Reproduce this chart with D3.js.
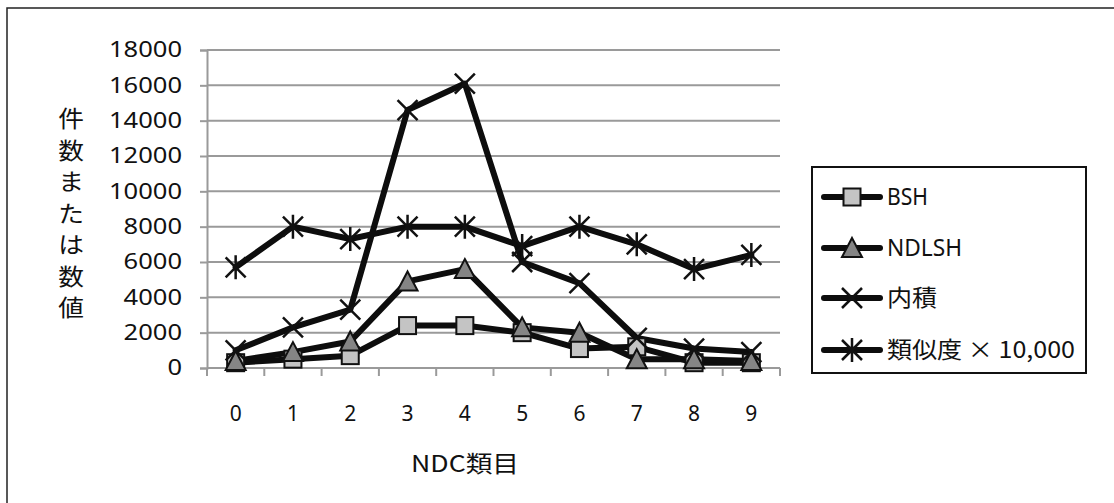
<!DOCTYPE html>
<html>
<head>
<meta charset="utf-8">
<script src="https://d3js.org/d3.v7.min.js"></script>
<style>
  html, body { margin: 0; padding: 0; background: #fff; }
  svg { display: block; }
  text { font-family: "Noto Sans", "Noto Sans CJK JP", sans-serif; fill: #111; }
  .jp { font-family: "Noto Sans CJK JP", "Noto Sans", sans-serif; }
</style>
</head>
<body>
<svg id="chart" width="1114" height="503"></svg>
<script>
// NDC classes on the x axis
const categories = ["0", "1", "2", "3", "4", "5", "6", "7", "8", "9"];
const yTicks = [0, 2000, 4000, 6000, 8000, 10000, 12000, 14000, 16000, 18000];

// series values per NDC class
const bsh      = [300, 500, 700, 2400, 2400, 2000, 1100, 1200, 300, 300];
const ndlsh    = [400, 900, 1500, 4900, 5600, 2300, 2000, 500, 500, 400];
const naiseki  = [1000, 2300, 3300, 14600, 16100, 6000, 4800, 1700, 1100, 900];
const ruijido  = [5700, 8000, 7300, 8000, 8000, 6900, 8000, 7000, 5600, 6400];

const seriesNames = ["BSH", "NDLSH", "内積", "類似度×10,000"];
const legendLabels = ["BSH", "NDLSH", "内積", "類似度 × 10,000"];
const seriesValues = [bsh, ndlsh, naiseki, ruijido];
const markerKinds = ["square", "triangle", "cross", "asterisk"];

const svg = d3.select("#chart");

// outer frame (only top and left edges fall inside the view)
svg.append("rect")
  .attr("x", 7).attr("y", 8).attr("width", 1130).attr("height", 520)
  .attr("fill", "none").attr("stroke", "#222").attr("stroke-width", 1.5);

const x = d3.scaleBand().domain(categories).range([207, 780]);
const y = d3.scaleLinear().domain([0, 18000]).range([368, 50]);
const cx = c => x(c) + x.bandwidth() / 2;

// horizontal gridlines
svg.append("g").selectAll("line").data(yTicks).join("line")
  .attr("x1", 207).attr("x2", 780)
  .attr("y1", d => y(d)).attr("y2", d => y(d))
  .attr("stroke", "#9a9a9a").attr("stroke-width", 2);

// y axis
const yAxis = svg.append("g").attr("transform", "translate(207,0)")
  .call(d3.axisLeft(y).tickValues(yTicks).tickSize(7).tickPadding(18).tickFormat(d3.format("d")));
yAxis.select(".domain").attr("stroke", "#9a9a9a").attr("stroke-width", 2);
yAxis.selectAll(".tick line").attr("stroke", "#9a9a9a").attr("stroke-width", 2);
yAxis.selectAll(".tick text")
  .attr("font-size", 21).attr("font-family", "Noto Sans")
  .attr("fill", "#111")
  .attr("textLength", d => String(d).length * 14.6)
  .attr("lengthAdjust", "spacingAndGlyphs");

// x axis: labels at band centres, tick marks at band boundaries
const xAxis = svg.append("g").attr("transform", "translate(0,368)")
  .call(d3.axisBottom(x).tickSize(0).tickPadding(38));
xAxis.select(".domain").remove();
xAxis.selectAll(".tick text")
  .attr("font-size", 21).attr("font-family", "Noto Sans").attr("fill", "#111");
svg.append("line").attr("x1", 207).attr("x2", 780).attr("y1", y(0)).attr("y2", y(0))
  .attr("stroke", "#9a9a9a").attr("stroke-width", 2);
const bounds = categories.map(c => x(c)).concat([x.range()[1]]);
svg.append("g").selectAll("line").data(bounds).join("line")
  .attr("x1", d => d).attr("x2", d => d)
  .attr("y1", y(0)).attr("y2", y(0) + 8)
  .attr("stroke", "#9a9a9a").attr("stroke-width", 2);

// axis titles
svg.append("text").attr("class", "jp")
  .attr("x", 465).attr("y", 472).attr("text-anchor", "middle")
  .attr("font-size", 23).attr("textLength", 108).attr("lengthAdjust", "spacingAndGlyphs")
  .text("NDC類目");

const yTitle = "件数または数値".split("");
svg.append("g").selectAll("text").data(yTitle).join("text")
  .attr("class", "jp")
  .attr("transform", (d, i) => `translate(71,${119 + i * 31.5}) scale(1.12,1)`)
  .attr("text-anchor", "middle").attr("dy", "0.36em")
  .attr("font-size", 23)
  .text(d => d);

// marker drawing
function drawMarker(g, kind, px, py) {
  if (kind === "square") {
    g.append("rect").attr("x", px - 8.5).attr("y", py - 8.5)
      .attr("width", 17).attr("height", 17)
      .attr("fill", "#c4c4c4").attr("stroke", "#111").attr("stroke-width", 2);
  } else if (kind === "triangle") {
    g.append("path")
      .attr("d", `M${px},${py - 10} L${px + 10},${py + 9} L${px - 10},${py + 9} Z`)
      .attr("fill", "#858585").attr("stroke", "#111").attr("stroke-width", 2)
      .attr("stroke-linejoin", "miter");
  } else if (kind === "cross") {
    g.append("path")
      .attr("d", `M${px - 10},${py - 10} L${px + 10},${py + 10} M${px + 10},${py - 10} L${px - 10},${py + 10}`)
      .attr("stroke", "#111").attr("stroke-width", 2.5);
  } else {
    g.append("path")
      .attr("d", `M${px - 10},${py - 10} L${px + 10},${py + 10} M${px + 10},${py - 10} L${px - 10},${py + 10} M${px},${py - 12} L${px},${py + 12}`)
      .attr("stroke", "#111").attr("stroke-width", 2.5);
  }
}

// series lines
const line = d3.line().x((d, i) => cx(categories[i])).y(d => y(d));
const linesG = svg.append("g");
seriesValues.forEach(vals => {
  linesG.append("path").datum(vals)
    .attr("d", line)
    .attr("fill", "none").attr("stroke", "#0d0d0d")
    .attr("stroke-width", 6).attr("stroke-linejoin", "round").attr("stroke-linecap", "round");
});

// series markers
const markersG = svg.append("g");
seriesValues.forEach((vals, s) => {
  vals.forEach((v, i) => drawMarker(markersG, markerKinds[s], cx(categories[i]), y(v)));
});

// legend
const legend = svg.append("g");
legend.append("rect").attr("x", 812).attr("y", 167).attr("width", 274).attr("height", 206)
  .attr("fill", "#fff").attr("stroke", "#111").attr("stroke-width", 2);
const legendRows = [197, 248, 298, 350];
const legendWidths = [41, 75, 50, 188];
seriesNames.forEach((name, s) => {
  const ly = legendRows[s];
  legend.append("line").attr("x1", 824).attr("x2", 880).attr("y1", ly).attr("y2", ly)
    .attr("stroke", "#0d0d0d").attr("stroke-width", 6).attr("stroke-linecap", "round");
  drawMarker(legend, markerKinds[s], 852, ly);
  legend.append("text").attr("class", s >= 2 ? "jp" : null)
    .attr("x", 887).attr("y", ly).attr("dy", "0.36em")
    .attr("font-size", 23)
    .attr("font-family", s >= 2 ? "Noto Sans CJK JP" : "Noto Sans")
    .attr("textLength", legendWidths[s]).attr("lengthAdjust", "spacingAndGlyphs")
    .text(legendLabels[s]);
});
</script>
</body>
</html>
